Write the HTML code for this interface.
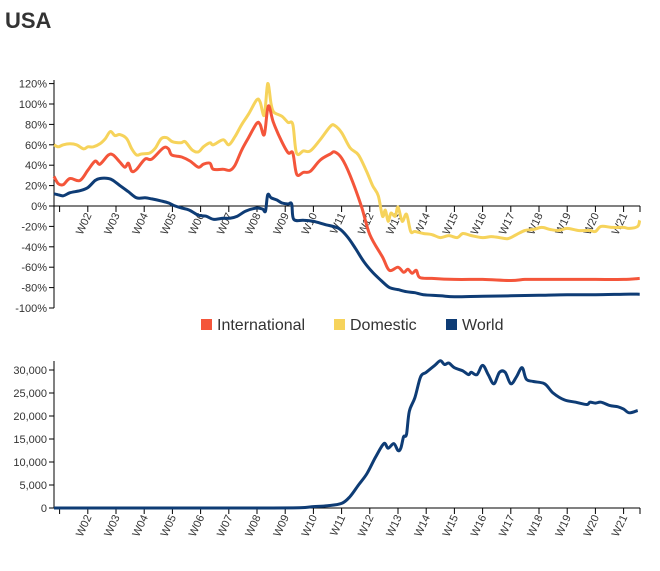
<!DOCTYPE html>
<html><head><meta charset="utf-8"><style>
body{margin:0;background:#fff;font-family:"Liberation Sans",Arial,sans-serif;}
svg text{font-family:"Liberation Sans",Arial,sans-serif;}
</style></head><body>
<svg id="c" width="660" height="566">
<text x="5" y="28" font-size="22" font-weight="bold" fill="#333">USA</text>
<g id="topchart"></g>
<g id="legend">
<rect x="201" y="319" width="11" height="11" fill="#f4553a"/>
<text x="217" y="330" font-size="16" fill="#333">International</text>
<rect x="334" y="319" width="11" height="11" fill="#f6d35b"/>
<text x="350" y="330" font-size="16" fill="#333">Domestic</text>
<rect x="446" y="319" width="11" height="11" fill="#0e3c75"/>
<text x="462" y="330" font-size="16" fill="#333">World</text>
</g>
<g id="botchart"></g>
</svg>
<script>
const weekLabels=["W02","W03","W04","W05","W06","W07","W08","W09","W10","W11","W12","W13","W14","W15","W16","W17","W18","W19","W20","W21"];
const pctTicks=[120,100,80,60,40,20,0,-20,-40,-60,-80,-100];
const countTicks=[0,5000,10000,15000,20000,25000,30000];
const intlT=[0.8,0.95,1.13,1.37,1.72,2.0,2.26,2.43,2.73,2.9,3.14,3.32,3.44,3.56,3.73,4.03,4.27,4.68,4.86,4.98,5.33,5.63,5.92,6.1,6.33,6.45,6.8,7.04,7.22,7.46,7.7,7.99,8.11,8.26,8.4,8.58,8.88,9.11,9.27,9.41,9.65,9.89,10.24,10.6,10.75,11.0,11.3,11.7,12.0,12.45,12.69,13.0,13.2,13.35,13.5,13.65,13.77,14.2,15,16,17,17.5,18,19,20,21,21.57];
const intlV=[29,22,21,27,25,35,44,41,50,50,43,38,42,34,36,46,46,57,56,50,48,44,38,41,42,36,36,35,40,55,67,81,80,70,98,82,63,52,52,31,33,34,45,51,53,47,30,0,-28,-50,-63,-60,-65,-62,-66,-63,-70,-71,-72,-72,-73,-72,-72,-72,-72,-72,-71];
const domT=[0.8,0.95,1.13,1.37,1.6,1.85,2.0,2.2,2.43,2.62,2.8,2.96,3.14,3.38,3.56,3.73,3.9,4.2,4.4,4.6,4.8,5.0,5.3,5.45,5.7,5.92,6.1,6.33,6.45,6.8,7.0,7.22,7.46,7.7,7.99,8.11,8.26,8.38,8.5,8.6,8.88,9.1,9.27,9.4,9.65,9.89,10.24,10.6,10.75,11.0,11.3,11.6,11.9,12.1,12.3,12.45,12.55,12.65,12.75,12.9,13.0,13.15,13.3,13.45,13.6,13.9,14.2,14.5,14.8,15.1,15.3,15.6,16.0,16.3,16.6,16.9,17.2,17.5,17.8,18.1,18.4,18.7,19.0,19.4,19.8,20.0,20.2,20.6,21.0,21.2,21.5,21.57];
const domV=[60,58,60,61,60,56,58,58,61,66,73,69,70,66,56,50,51,52,57,66,67,63,62,63,55,53,58,62,60,65,60,68,80,90,104,102,89,120,100,92,88,82,80,52,54,54,65,78,79,72,57,50,33,20,10,-10,-4,-15,-7,-10,-1,-15,-8,-25,-25,-27,-28,-31,-29,-31,-27,-29,-31,-30,-31,-32,-28,-24,-23,-21,-23,-24,-22,-24,-24,-25,-20,-21,-21,-22,-20,-14];
const worldT=[0.8,0.95,1.13,1.37,1.72,2.0,2.26,2.43,2.73,2.9,3.14,3.44,3.73,4.03,4.27,4.6,4.86,5.1,5.33,5.6,5.92,6.2,6.45,6.8,7.04,7.3,7.6,7.99,8.2,8.3,8.38,8.5,8.7,8.88,9.1,9.23,9.3,9.65,10.0,10.4,10.9,11.2,11.5,11.8,12.1,12.4,12.7,13.0,13.3,13.6,13.9,14.5,15,16,17,18,19,20,21,21.57];
const worldV=[12,11,10,13,15,18,25,27,27,25,20,14,8,8,7,5,3,0,-2,-4,-9,-10,-13,-12,-12,-10,-5,-2,-3,-5,11,8,6,3,2,2,-13,-14,-15,-18,-22,-30,-42,-55,-65,-73,-80,-82,-84,-85,-87,-88,-89,-88.5,-88,-87.5,-87,-87,-86.5,-86.5];
const cntT=[0.8,2,4,6,8,9.5,10,10.5,11.0,11.3,11.6,11.9,12.2,12.5,12.65,12.85,13.0,13.1,13.2,13.3,13.4,13.6,13.8,14.0,14.3,14.5,14.65,14.8,15.0,15.3,15.5,15.6,15.8,16.0,16.2,16.4,16.6,16.8,17.0,17.2,17.4,17.55,17.8,18.2,18.5,18.9,19.3,19.7,19.8,20.0,20.2,20.5,20.8,21.0,21.2,21.5];
const cntV=[0,0,0,0,0,50,300,500,1000,2500,5000,7500,11000,14000,13000,14000,12500,13000,15500,16000,21000,24000,28500,29500,31000,32000,31200,31500,30500,29800,29000,29500,29000,31000,29000,27000,29500,29500,27000,28500,30500,28000,27500,27000,25000,23500,23000,22500,23000,22800,23000,22300,22000,21500,20700,21200];

const NS="http://www.w3.org/2000/svg";
function mk(parent,tag,attrs){const e=document.createElementNS(NS,tag);for(const k in attrs)e.setAttribute(k,attrs[k]);parent.appendChild(e);return e;}
const X0=54,X1=640;
function xs(t){return 59.6+(t-1)*28.2;}
function yTop(v){return 206-v*1.02;}
function yBot(v){return 508-v*0.0046;}

function drawXAxis(g,y,nameP){
  const ax=mk(g,'line',{x1:X0,y1:y,x2:X1,y2:y,stroke:'#000','stroke-width':1});
  
  
  const tk=[1].concat(weekLabels.map((l,i)=>i+2));
  tk.forEach(w=>{const l=mk(g,'line',{x1:xs(w),y1:y,x2:xs(w),y2:y+6,stroke:'#000'});
    
    });
  mk(g,'line',{x1:X1,y1:y,x2:X1,y2:y+6,stroke:'#000'});
  weekLabels.forEach((lab,i)=>{const x=xs(i+2);
    const t=mk(g,'text',{transform:`translate(${x+4},${y+9}) rotate(-65)`,'text-anchor':'end','font-size':11,fill:'#333'});
    t.textContent=lab;
    
    });
}
function drawLine(g,T,V,ys,color,name){
  const n=Math.min(T.length,V.length);
  const P=[];for(let i=0;i<n;i++)P.push([xs(T[i]),ys(V[i])]);
  let d='M'+P[0][0].toFixed(1)+','+P[0][1].toFixed(1);
  const k=1/6;
  for(let i=0;i<n-1;i++){
    const p0=P[Math.max(0,i-1)],p1=P[i],p2=P[i+1],p3=P[Math.min(n-1,i+2)];
    const c1x=p1[0]+(p2[0]-p0[0])*k,c1y=p1[1]+(p2[1]-p0[1])*k;
    const c2x=p2[0]-(p3[0]-p1[0])*k,c2y=p2[1]-(p3[1]-p1[1])*k;
    d+='C'+c1x.toFixed(1)+','+c1y.toFixed(1)+' '+c2x.toFixed(1)+','+c2y.toFixed(1)+' '+p2[0].toFixed(1)+','+p2[1].toFixed(1);
  }
  const p=mk(g,'path',{d:d,fill:'none',stroke:color,'stroke-width':3,'stroke-linejoin':'round'});
  
  
}
const topG=document.getElementById('topchart');
const ya=mk(topG,'line',{x1:X0,y1:80,x2:X0,y2:308,stroke:'#000'});


pctTicks.forEach(v=>{const y=yTop(v);mk(topG,'line',{x1:X0-5,y1:y,x2:X0,y2:y,stroke:'#000'});
  const t=mk(topG,'text',{x:X0-7,y:y+4,'text-anchor':'end','font-size':11,fill:'#333'});t.textContent=v+'%';
  
  });
drawXAxis(topG,206,'top');
drawLine(topG,domT,domV,yTop,'#f6d35b','domestic-line');
drawLine(topG,intlT,intlV,yTop,'#f4553a','international-line');
drawLine(topG,worldT,worldV,yTop,'#0e3c75','world-line');

const botG=document.getElementById('botchart');
const yb=mk(botG,'line',{x1:X0,y1:361,x2:X0,y2:508,stroke:'#000'});


countTicks.forEach(v=>{const y=yBot(v);mk(botG,'line',{x1:X0-5,y1:y,x2:X0,y2:y,stroke:'#000'});
  const t=mk(botG,'text',{x:X0-7,y:y+4,'text-anchor':'end','font-size':11,fill:'#333'});t.textContent=v.toLocaleString('en-US');
  
  });
drawXAxis(botG,508,'bottom');
drawLine(botG,cntT,cntV,yBot,'#0e3c75','count-line');
</script>
</body></html>
